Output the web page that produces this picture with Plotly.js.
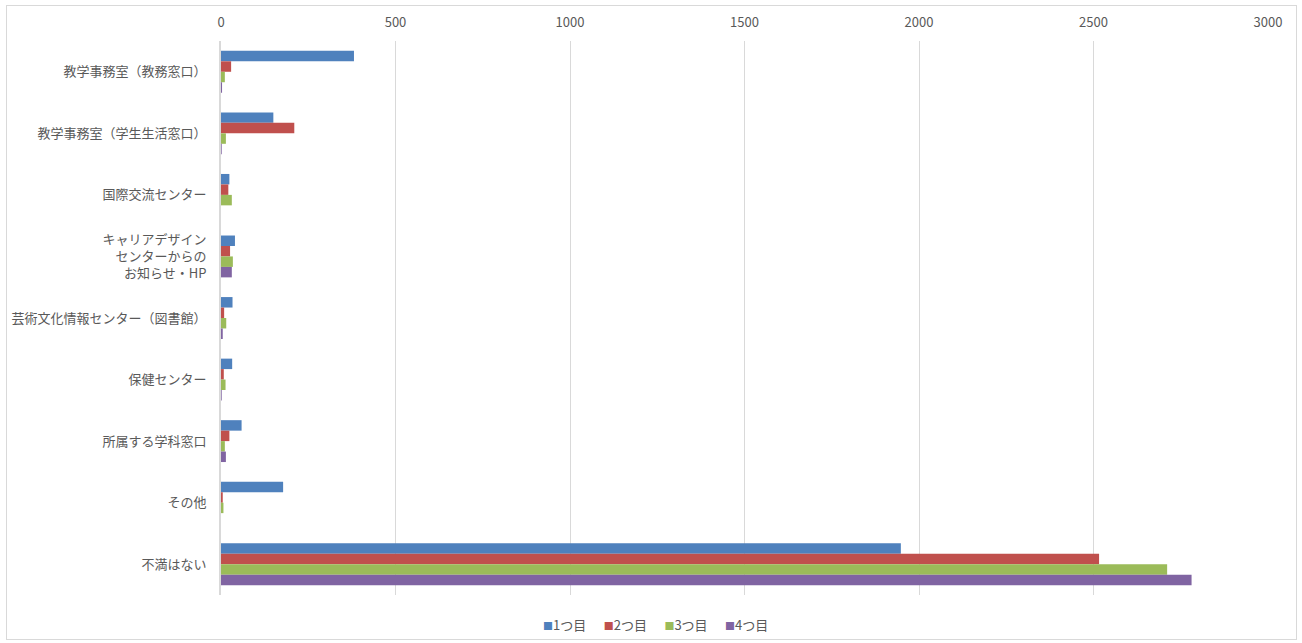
<!DOCTYPE html>
<html>
<head>
<meta charset="utf-8">
<script src="https://cdn.plot.ly/plotly-3.0.1.min.js"></script>
<style>
  html, body { margin: 0; padding: 0; background: #fff; }
  #chart { width: 1302px; height: 643px; }
  #frame { position: absolute; left: 6px; top: 5px; width: 1289px; height: 633px; border: 1px solid #d9d9d9; pointer-events: none; }
</style>
</head>
<body>
<div id="chart"></div>
<div id="frame"></div>
<script>
const categories = [
  "教学事務室（教務窓口）",
  "教学事務室（学生生活窓口）",
  "国際交流センター",
  "キャリアデザイン<br>センターからの<br>お知らせ・HP",
  "芸術文化情報センター（図書館）",
  "保健センター",
  "所属する学科窓口",
  "その他",
  "不満はない"
];
const seriesNames = ["1つ目", "2つ目", "3つ目", "4つ目"];
const first  = [381, 150, 24, 40, 33, 32, 59, 178, 1948];
const second = [29, 210, 21, 26, 9, 8, 24, 5, 2516];
const third  = [11, 14, 31, 34, 15, 13, 11, 7, 2711];
const fourth = [3, 2, 0, 31, 5, 2, 14, 0, 2781];
const colors = ["#4f81bd", "#c0504d", "#9bbb59", "#8064a2"];
const xTicks = [0, 500, 1000, 1500, 2000, 2500, 3000];

const values = [first, second, third, fourth];
const font = "'Noto Sans CJK JP', 'Noto Sans', sans-serif";
const traces = values.map((v, i) => ({
  type: "bar",
  orientation: "h",
  name: seriesNames[i],
  x: v,
  y: categories,
  marker: { color: colors[i], line: { width: 0 } },
  showlegend: false
}));

// custom compact legend (Excel style: small square directly before the text)
const legendText = seriesNames.map((n, i) =>
  `<span style="color:${colors[i]};font-size:10px">■</span>${n}`
).join("\u00a0\u00a0\u00a0\u00a0\u00a0\u00a0");

const layout = {
  width: 1302,
  height: 643,
  margin: { l: 221, r: 34, t: 41, b: 48, autoexpand: false },
  paper_bgcolor: "#fff",
  plot_bgcolor: "#fff",
  barmode: "group",
  bargap: 0.32,
  bargroupgap: 0,
  font: { family: font, size: 13, color: "#595959" },
  xaxis: {
    side: "top",
    range: [0, 3000],
    tickvals: xTicks,
    ticktext: xTicks.map(String),
    showgrid: true,
    gridcolor: "#d9d9d9",
    gridwidth: 1,
    zeroline: false,
    showline: false,
    ticks: "",
    ticklabelstandoff: 10,
    tickfont: { family: font, size: 13, color: "#595959" }
  },
  yaxis: {
    type: "category",
    autorange: "reversed",
    showline: true,
    linecolor: "#d9d9d9",
    linewidth: 2,
    showgrid: false,
    zeroline: false,
    ticks: "",
    ticklabelstandoff: 10,
    tickfont: { family: font, size: 13, color: "#595959" }
  },
  showlegend: false,
  annotations: [{
    xref: "paper", yref: "paper",
    x: (655 - 221) / 1047, y: -29 / 554,
    xanchor: "center", yanchor: "middle",
    showarrow: false,
    text: legendText,
    font: { family: font, size: 13, color: "#595959" }
  }]
};

Plotly.newPlot("chart", traces, layout, { displayModeBar: false, staticPlot: true });
</script>
</body>
</html>
